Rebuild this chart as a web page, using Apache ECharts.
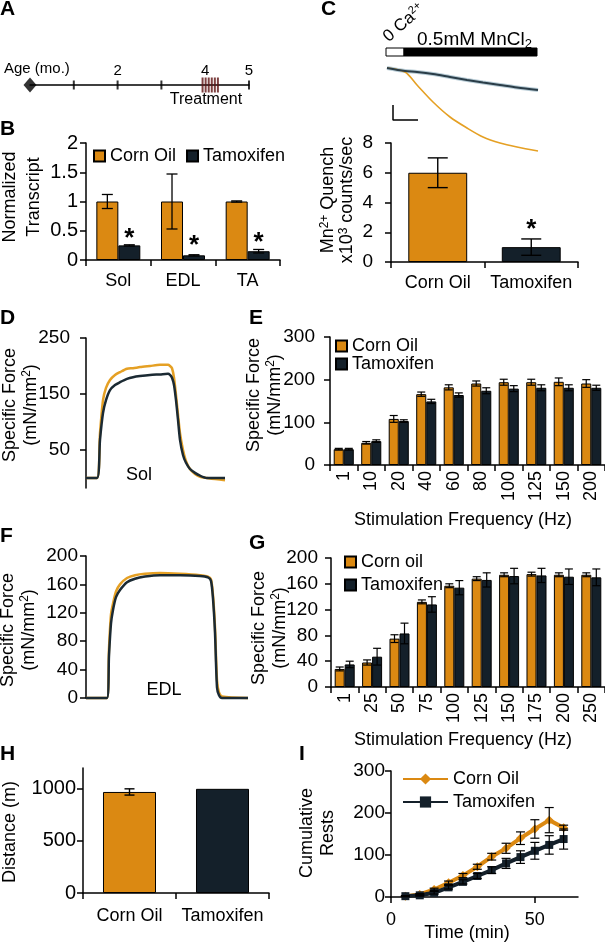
<!DOCTYPE html>
<html><head><meta charset="utf-8">
<script src="https://cdn.jsdelivr.net/npm/echarts@6.0.0/dist/echarts.min.js"></script>
<style>html,body{margin:0;padding:0;background:#fff}#c{width:605px;height:944px}</style>
</head><body><div id="c"></div>
<script>
// ================= DATA =================
// A: timeline
const ageTickMonths = [1, 2, 3, 5];
const ageLabelMonths = [2, 4, 5];
const injectionMonths = [3.94, 4.01, 4.08, 4.15, 4.22, 4.29];
// B: normalized transcript
const bMuscles = ['Sol', 'EDL', 'TA'];
const bCorn = [1, 1, 1];
const bCornErr = [0.12, 0.47, 0.01];
const bTam = [0.25, 0.08, 0.15];
const bTamErr = [0.01, 0.01, 0.03];
const bStarY = [0.46, 0.34, 0.39];
// C: Mn quench trace + bars
const cTraceTime = [0, 18, 30, 46, 63, 80, 96, 113, 130, 151];
const cTraceCorn = [92, 88, 75, 58, 43, 32, 23, 17, 13, 9];
const cTraceTam = [92, 89, 88, 86, 83, 80, 77.5, 75, 72.5, 70];
const cScaleBar = [[6, 55], [6, 40], [31, 40]];
const cStimBlocks = [[-1, 17, 104, 112, 0], [17, 150, 104, 112, 1]];
const cGroups = ['Corn Oil', 'Tamoxifen'];
const cQuench = [6, 1];
const cQuenchErr = [1, 0.55];
const cStarY = [null, 2.55];
// D: Sol force trace
const dTime = [0,110,140,170,200,240,290,340,410,470,540,640,740,820,840,860,880,900,920,940,970,1000,1040,1090,1140,1210,1290,1390];
const dCorn = [0,0,80,139,161,175,184,189,195,196,198,200,202,202,200,196,179,148,113,80,50,30,16,7,2,0,-2,-4];
const dTam  = [0,0,68,116,139,157,166,171,177,180,182,184,185,186,184,179,166,139,104,68,41,27,16,9,4,0,0,0];
// E: Sol force-frequency
const eFreq = ['1','10','20','40','60','80','100','125','150','200'];
const eCorn = [37, 52, 108, 166, 182, 191, 194, 194, 195, 191];
const eCornErr = [2, 3, 8, 5, 6, 6, 7, 7, 9, 9];
const eTam = [37, 56, 103, 149, 164, 174, 179, 181, 181, 181];
const eTamErr = [2, 3, 3, 5, 5, 7, 7, 7, 7, 6];
// F: EDL force trace
const fTime = [0,210,230,250,270,300,340,410,490,590,740,940,1140,1220,1250,1270,1290,1310,1330,1360,1620];
const fCorn = [0,0,70,118,133,150,160,169,173,175,176,175,173,171,167,145,100,25,8,2,0];
const fTam  = [0,0,60,105,124,142,152,163,168,171,173,173,172,170,165,140,92,15,4,0,0];
// G: EDL force-frequency
const gFreq = ['1','25','50','75','100','125','150','175','200','250'];
const gCorn = [28, 38, 75, 132, 157, 168, 174, 175, 174, 174];
const gCornErr = [3, 4, 6, 3, 3, 3, 3, 3, 3, 3];
const gTam = [35, 47, 83, 128, 154, 166, 172, 173, 171, 170];
const gTamErr = [5, 13, 16, 12, 11, 11, 12, 11, 12, 13];
// H: distance
const hGroups = ['Corn Oil', 'Tamoxifen'];
const hDistance = [970, 1000];
const hDistanceErr = [30, 0];
// I: cumulative rests
const iTime = [5, 10, 15, 20, 25, 30, 35, 40, 45, 50, 55, 60];
const iCorn = [2, 6, 18, 34, 51, 72, 96, 116, 140, 162, 183, 165];
const iCornErr = [1, 2, 3, 4, 5, 6, 8, 12, 15, 22, 30, 6];
const iTam = [2, 4, 10, 23, 36, 50, 64, 80, 95, 110, 124, 138];
const iTamErr = [1, 2, 3, 4, 5, 6, 8, 12, 15, 20, 22, 24];
const iXTicks = [0, 50];

// ================= STYLE =================
const FONT = '"Liberation Sans", Arial, Helvetica, sans-serif';
const ORANGE = '#DB8912';
const DARK = '#14202A';
const TRACE_OR = '#E5A024';
const TRACE_DK = '#1b2a33';
const FS = 18;
const plain = v => String(v);

const lineS = {show: true, onZero: false, lineStyle: {color: '#000', width: 1.5}};
function tick(o) { return Object.assign({show: true, length: 6, inside: false, lineStyle: {color: '#000', width: 1.5}}, o || {}); }
function lab(o) { return Object.assign({show: true, color: '#000', fontFamily: FONT, fontSize: FS}, o || {}); }
function hid(gi, o) { return Object.assign({gridIndex: gi, show: false, type: 'value', splitLine: {show: false}}, o || {}); }
function valAx(gi, o, labO, tickO) {
  return Object.assign({gridIndex: gi, type: 'value', axisLine: lineS, axisTick: tick(tickO), axisLabel: lab(Object.assign({formatter: plain}, labO)), splitLine: {show: false}}, o);
}
function catAx(gi, data, labO) {
  return {gridIndex: gi, type: 'category', data: data, axisLine: lineS, axisTick: tick({alignWithLabel: false}), axisLabel: lab(Object.assign({interval: 0}, labO || {})), splitLine: {show: false}};
}

const grids = [
  {left: 30, top: 60, width: 219, height: 25},    // 0 A
  {left: 86, top: 143, width: 194, height: 117},  // 1 B
  {left: 387, top: 40, width: 153, height: 120},  // 2 C trace
  {left: 391, top: 143, width: 187, height: 119}, // 3 C bars
  {left: 86, top: 338, width: 140, height: 150},  // 4 D
  {left: 330, top: 337, width: 275, height: 128}, // 5 E
  {left: 86, top: 556, width: 162, height: 142},  // 6 F
  {left: 331, top: 558, width: 274, height: 129}, // 7 G
  {left: 83, top: 768, width: 186, height: 125},  // 8 H
  {left: 391, top: 771, width: 187, height: 126}  // 9 I
].map(g => Object.assign({containLabel: false, outerBoundsMode: 'none'}, g));

const xAxes = [
  {gridIndex: 0, type: 'value', min: 0, max: 5, axisLine: lineS, axisTick: {show: false}, splitLine: {show: false},
   axisLabel: lab({inside: true, customValues: ageLabelMonths, fontSize: 15, margin: 7, formatter: plain})},
  catAx(1, bMuscles, {margin: 12}),
  hid(2, {min: 0, max: 153}),
  catAx(3, cGroups, {margin: 12}),
  hid(4, {min: 0, max: 1400}),
  catAx(5, eFreq, {rotate: 90, margin: 6}),
  hid(6, {min: 0, max: 1620}),
  catAx(7, gFreq, {rotate: 90, margin: 6}),
  catAx(8, hGroups, {margin: 14}),
  valAx(9, {min: 0, max: 65}, {customValues: iXTicks, margin: 14}, {customValues: iXTicks})
];
const yAxes = [
  hid(0, {min: 0, max: 1}),
  valAx(1, {min: 0, max: 2, interval: 0.5}, {margin: 8, fontSize: 20}),
  hid(2, {min: 0, max: 120}),
  valAx(3, {min: 0, max: 8, interval: 2}, {margin: 18, fontSize: 19}),
  valAx(4, {min: -18, max: 250}, {customValues: [50, 150, 250], margin: 16, fontSize: 19}, {customValues: [50, 150, 250]}),
  valAx(5, {min: 0, max: 300, interval: 100}, {margin: 15, fontSize: 19}),
  valAx(6, {min: 0, max: 200, interval: 40}, {margin: 8, fontSize: 19}),
  valAx(7, {min: 0, max: 200, interval: 40}, {margin: 13, fontSize: 19}),
  valAx(8, {min: 0, max: 1200}, {customValues: [0, 500, 1000], margin: 7, fontSize: 20}, {customValues: [0, 500, 1000]}),
  valAx(9, {min: 0, max: 300, interval: 100}, {margin: 6, fontSize: 19})
];

function errSeries(gi, data, o) {
  return {
    type: 'custom', xAxisIndex: gi, yAxisIndex: gi, z: 10, silent: true, data: data,
    renderItem: function (params, api) {
      const x = api.value(0), m = api.value(1), e = api.value(2);
      if (!(e > 0)) return null;
      let cx = api.coord([x, m])[0];
      if (o.side) cx += o.side * api.size([1, 0])[0] * (1 - o.gap) / 4;
      const yt = api.coord([x, m + e])[1], yb = api.coord([x, m - e])[1];
      const st = {stroke: o.color || '#000', lineWidth: o.lw || 1.3};
      const h = o.cap / 2;
      return {type: 'group', children: [
        {type: 'line', shape: {x1: cx, y1: yt, x2: cx, y2: yb}, style: st},
        {type: 'line', shape: {x1: cx - h, y1: yt, x2: cx + h, y2: yt}, style: st},
        {type: 'line', shape: {x1: cx - h, y1: yb, x2: cx + h, y2: yb}, style: st}
      ]};
    }
  };
}
function starSeries(gi, data, o) {
  return {
    type: 'custom', xAxisIndex: gi, yAxisIndex: gi, z: 11, silent: true, data: data,
    renderItem: function (params, api) {
      const x = api.value(0), v = api.value(1);
      const c = api.coord([x, v]);
      let cx = c[0];
      if (o.side) cx += o.side * api.size([1, 0])[0] * (1 - o.gap) / 4;
      return {type: 'text', x: cx, y: c[1] + o.dy, style: {text: '*', fontSize: o.fs, fontWeight: 'bold', fontFamily: FONT, fill: '#000', align: 'center', verticalAlign: 'middle', textAlign: 'center', textVerticalAlign: 'middle'}};
    }
  };
}
function barS(name, gi, data, color, gap) {
  return {type: 'bar', name: name, xAxisIndex: gi, yAxisIndex: gi, data: data, barGap: '0%', barCategoryGap: gap,
    itemStyle: {color: color, borderColor: '#000', borderWidth: 1}, silent: true};
}
function traceS(gi, xs, ys, color, width, z, smooth) {
  return {type: 'line', xAxisIndex: gi, yAxisIndex: gi, data: xs.map((t, i) => [t, ys[i]]), showSymbol: false, symbol: 'none',
    smooth: smooth, lineStyle: {color: color, width: width}, z: z, silent: true, clip: false};
}
const tri = (cats, m, e) => cats.map((_, i) => [i, m[i], e[i]]);

const series = [
  // A
  {type: 'scatter', xAxisIndex: 0, yAxisIndex: 0, data: [[0, 0]], symbol: 'diamond', symbolSize: [13, 15], itemStyle: {color: '#000'}, clip: false, silent: true, z: 5},
  {type: 'scatter', xAxisIndex: 0, yAxisIndex: 0, data: ageTickMonths.map(m => [m, 0]), symbol: 'rect', symbolSize: [2, 9], itemStyle: {color: '#000'}, clip: false, silent: true},
  {type: 'scatter', xAxisIndex: 0, yAxisIndex: 0, data: injectionMonths.map(m => [m, 0]), symbol: 'rect', symbolSize: [2, 15], itemStyle: {color: '#5e1212'}, clip: false, silent: true},
  // B
  barS('Corn Oil|B', 1, bCorn, ORANGE, '32%'),
  barS('Tamoxifen|B', 1, bTam, DARK, '32%'),
  errSeries(1, tri(bMuscles, bCorn, bCornErr), {side: -1, gap: 0.32, cap: 11}),
  errSeries(1, tri(bMuscles, bTam, bTamErr), {side: 1, gap: 0.32, cap: 11}),
  starSeries(1, bMuscles.map((_, i) => [i, bStarY[i]]), {side: 1, gap: 0.32, dy: 6, fs: 26}),
  // C trace
  traceS(2, cTraceTime, cTraceTam, '#b8ccd6', 4, 3, 0.3),
  traceS(2, cTraceTime, cTraceCorn, TRACE_OR, 1.6, 4, 0.3),
  traceS(2, cTraceTime, cTraceTam, '#2a3d48', 2, 5, 0.3),
  {type: 'line', xAxisIndex: 2, yAxisIndex: 2, data: cScaleBar, showSymbol: false, symbol: 'none', lineStyle: {color: '#000', width: 1.5}, silent: true, clip: false},
  {type: 'custom', xAxisIndex: 2, yAxisIndex: 2, data: cStimBlocks, silent: true,
   renderItem: function (p, api) {
     const a = api.coord([api.value(0), api.value(3)]), b = api.coord([api.value(1), api.value(2)]);
     return {type: 'rect', shape: {x: a[0], y: a[1], width: b[0] - a[0], height: b[1] - a[1]},
       style: {fill: api.value(4) ? '#000' : '#fff', stroke: '#000', lineWidth: 1}};
   }},
  // C bars
  {type: 'bar', name: 'Quench|C', xAxisIndex: 3, yAxisIndex: 3, barCategoryGap: '37%', silent: true,
   data: cQuench.map((v, i) => ({value: v, itemStyle: {color: [ORANGE, DARK][i], borderColor: '#000', borderWidth: 1}}))},
  errSeries(3, tri(cGroups, cQuench, cQuenchErr), {cap: 20, lw: 1.4}),
  starSeries(3, cGroups.map((_, i) => [i, cStarY[i]]).filter(d => d[1] != null), {dy: 6, fs: 26}),
  // D
  traceS(4, dTime, dCorn, TRACE_OR, 2.5, 3, 0.25),
  traceS(4, dTime, dTam, TRACE_DK, 2.5, 4, 0.25),
  // E
  barS('Corn Oil|E', 5, eCorn, ORANGE, '27%'),
  barS('Tamoxifen|E', 5, eTam, DARK, '27%'),
  errSeries(5, tri(eFreq, eCorn, eCornErr), {side: -1, gap: 0.27, cap: 8, lw: 1.2}),
  errSeries(5, tri(eFreq, eTam, eTamErr), {side: 1, gap: 0.27, cap: 8, lw: 1.2}),
  // F
  traceS(6, fTime, fCorn, TRACE_OR, 2.5, 3, 0.25),
  traceS(6, fTime, fTam, TRACE_DK, 2.5, 4, 0.25),
  // G
  barS('Corn oil|G', 7, gCorn, ORANGE, '27%'),
  barS('Tamoxifen|G', 7, gTam, DARK, '27%'),
  errSeries(7, tri(gFreq, gCorn, gCornErr), {side: -1, gap: 0.27, cap: 8, lw: 1.2}),
  errSeries(7, tri(gFreq, gTam, gTamErr), {side: 1, gap: 0.27, cap: 8, lw: 1.2}),
  // H
  {type: 'bar', name: 'Distance|H', xAxisIndex: 8, yAxisIndex: 8, barCategoryGap: '43%', silent: true,
   data: hDistance.map((v, i) => ({value: v, itemStyle: {color: [ORANGE, DARK][i], borderColor: '#000', borderWidth: 1}}))},
  errSeries(8, tri(hGroups, hDistance, hDistanceErr), {cap: 10, lw: 1.4}),
  // I
  {type: 'line', name: 'Corn Oil|I', xAxisIndex: 9, yAxisIndex: 9, data: iTime.map((t, i) => [t, iCorn[i]]),
   symbol: 'diamond', symbolSize: 9, showSymbol: true, itemStyle: {color: ORANGE}, lineStyle: {color: ORANGE, width: 4}, z: 3, silent: true},
  {type: 'line', name: 'Tamoxifen|I', xAxisIndex: 9, yAxisIndex: 9, data: iTime.map((t, i) => [t, iTam[i]]),
   symbol: 'rect', symbolSize: 8, showSymbol: true, itemStyle: {color: DARK}, lineStyle: {color: DARK, width: 4}, z: 4, silent: true},
  errSeries(9, iTime.map((t, i) => [t, iCorn[i], iCornErr[i]]), {cap: 9, lw: 1.2}),
  errSeries(9, iTime.map((t, i) => [t, iTam[i], iTamErr[i]]), {cap: 9, lw: 1.2})
];

const legTxt = {fontFamily: FONT, fontSize: FS, color: '#000', lineHeight: 18};
const legFmt = n => n.split('|')[0];
const legends = [
  {data: ['Corn Oil|B', 'Tamoxifen|B'], left: 93, top: 147, orient: 'horizontal', icon: 'rect', itemWidth: 11, itemHeight: 11, itemGap: 10, itemTextGap: 3},
  {data: ['Corn Oil|E', 'Tamoxifen|E'], left: 335, top: 337, orient: 'vertical', icon: 'rect', itemWidth: 11, itemHeight: 11, itemGap: 0, itemTextGap: 4},
  {data: ['Corn oil|G', 'Tamoxifen|G'], left: 344, top: 553, orient: 'vertical', icon: 'rect', itemWidth: 11, itemHeight: 11, itemGap: 5, itemTextGap: 3},
  {data: ['Corn Oil|I', 'Tamoxifen|I'], left: 402, top: 770, orient: 'vertical', itemWidth: 45, itemHeight: 14, itemGap: 5, itemTextGap: 2}
].map(l => Object.assign({padding: 0, textStyle: legTxt, formatter: legFmt, selectedMode: false}, l));

const panelLetters = [['A', 0, -1], ['B', 0, 119], ['C', 321, -1], ['D', 0, 308], ['E', 249, 308], ['F', 0, 526], ['G', 249, 533], ['H', 0, 744], ['I', 299, 744]];
const titles = panelLetters.map(p => ({text: p[0], left: p[1], top: p[2], padding: 0,
  textStyle: {fontFamily: FONT, fontWeight: 'bold', fontSize: 21, color: '#000'}}));

const SUP = {fontSize: 12, verticalAlign: 'top', fontFamily: FONT, lineHeight: 12};
function gText(x, y, text, o) {
  o = o || {};
  return {type: 'text', x: x, y: y, rotation: o.rot || 0, silent: true, z: 50,
    style: {text: text, fontFamily: FONT, fontSize: o.fs || FS, fill: '#000', lineHeight: o.lh || 21,
      align: o.align || 'center', verticalAlign: o.va || 'middle', textAlign: o.align || 'center', textVerticalAlign: o.va || 'middle',
      rich: o.rich || {}}};
}
const V = Math.PI / 2;
const richSup = {sup: SUP};
const graphics = [
  gText(4, 69, 'Age (mo.)', {align: 'left', fs: 15}),
  gText(206, 100, 'Treatment', {fs: 16}),
  gText(392, 46, '0 Ca{sup|2+}', {align: 'left', va: 'bottom', rot: 0.72, fs: 17, rich: {sup: {fontSize: 11, verticalAlign: 'top', fontFamily: FONT, lineHeight: 11}}, lh: 19}),
  gText(417, 40, '0.5mM MnCl{sub|2}', {align: 'left', fs: 19, lh: 22, rich: {sub: {fontSize: 13, verticalAlign: 'bottom', fontFamily: FONT, lineHeight: 13}}}),
  gText(22, 197, 'Normalized\nTranscript', {rot: V, lh: 24}),
  gText(338, 200, 'Mn{sup|2+} Quench\nx10{sup|3} counts/sec', {rot: V, lh: 19, rich: richSup}),
  gText(21, 405, 'Specific Force\n(mN/mm{sup|2})', {rot: V, rich: richSup}),
  gText(265, 395, 'Specific Force\n(mN/mm{sup|2})', {rot: V, rich: richSup}),
  gText(19, 630, 'Specific Force\n(mN/mm{sup|2})', {rot: V, rich: richSup}),
  gText(270, 628, 'Specific Force\n(mN/mm{sup|2})', {rot: V, rich: richSup}),
  gText(10, 832, 'Distance (m)', {rot: V}),
  gText(318, 833, 'Cumulative\nRests', {rot: V}),
  gText(463, 520, 'Stimulation Frequency (Hz)'),
  gText(463, 740, 'Stimulation Frequency (Hz)'),
  gText(467, 933, 'Time (min)'),
  gText(139, 475, 'Sol'),
  gText(164, 690, 'EDL')
];

const chart = echarts.init(document.getElementById('c'), null, {renderer: 'canvas', width: 605, height: 944});
chart.setOption({
  animation: false,
  backgroundColor: '#fff',
  textStyle: {fontFamily: FONT},
  title: titles,
  legend: legends,
  grid: grids,
  xAxis: xAxes,
  yAxis: yAxes,
  series: series,
  graphic: graphics
});
</script></body></html>
